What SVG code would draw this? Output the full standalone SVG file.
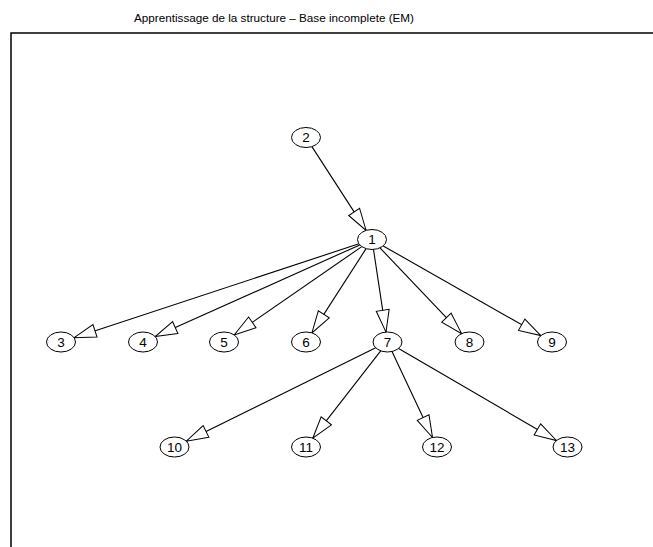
<svg xmlns="http://www.w3.org/2000/svg" width="653" height="547" viewBox="0 0 653 547">
  <style>
    .title { font-family: "Liberation Sans", Arial, sans-serif; font-size: 11.7px; fill: #000; text-anchor: middle; }
    .node ellipse { fill: #fff; stroke: #000; stroke-width: 1; }
    .node text { font-family: "Liberation Sans", Arial, sans-serif; font-size: 13.5px; fill: #000; text-anchor: middle; dominant-baseline: central; }
    .edge { stroke: #000; stroke-width: 1.1; fill: none; marker-end: url(#arrow); }
  </style>
  <defs>
    <marker id="arrow" markerUnits="userSpaceOnUse" markerWidth="24" markerHeight="15" refX="22" refY="6.5" orient="auto" overflow="visible">
      <path d="M0,0 L22,6.5 L0,13 Z" fill="#fff" stroke="#000" stroke-width="1"/>
    </marker>
  </defs>
  <rect width="653" height="547" fill="#fff"/>
  <text class="title" x="274" y="22">Apprentissage de la structure – Base incomplete (EM)</text>
  <!-- plot frame (right and bottom edges lie outside the canvas) -->
  <rect x="11" y="33" width="700" height="600" fill="none" stroke="#000" stroke-width="1.5"/>

  <g id="edges">
    <line class="edge" x1="311.9" y1="146.6" x2="366.1" y2="230.4"/>
    <line class="edge" x1="358.9" y1="243.8" x2="74.1" y2="337.7"/>
    <line class="edge" x1="359.8" y1="244.9" x2="155.2" y2="336.6"/>
    <line class="edge" x1="361.8" y1="246.6" x2="234.2" y2="334.9"/>
    <line class="edge" x1="366.1" y1="248.6" x2="311.9" y2="332.9"/>
    <line class="edge" x1="373.5" y1="249.5" x2="386.0" y2="332.1"/>
    <line class="edge" x1="380.0" y1="247.9" x2="461.6" y2="333.6"/>
    <line class="edge" x1="383.2" y1="245.9" x2="540.8" y2="335.6"/>
    <line class="edge" x1="375.7" y1="347.8" x2="186.3" y2="441.2"/>
    <line class="edge" x1="380.7" y1="350.8" x2="312.8" y2="438.2"/>
    <line class="edge" x1="392.0" y1="351.5" x2="432.5" y2="437.5"/>
    <line class="edge" x1="398.6" y1="348.5" x2="556.4" y2="440.5"/>
  </g>

  <g id="node-2" class="node"><ellipse cx="306" cy="137.5" rx="14.5" ry="10"/><text x="306" y="137.5">2</text></g>
  <g id="node-1" class="node"><ellipse cx="372" cy="239.5" rx="14.5" ry="10"/><text x="372" y="239.5">1</text></g>
  <g id="node-3" class="node"><ellipse cx="61" cy="342" rx="14.5" ry="10"/><text x="61" y="342">3</text></g>
  <g id="node-4" class="node"><ellipse cx="143" cy="342" rx="14.5" ry="10"/><text x="143" y="342">4</text></g>
  <g id="node-5" class="node"><ellipse cx="224" cy="342" rx="14.5" ry="10"/><text x="224" y="342">5</text></g>
  <g id="node-6" class="node"><ellipse cx="306" cy="342" rx="14.5" ry="10"/><text x="306" y="342">6</text></g>
  <g id="node-7" class="node"><ellipse cx="387.5" cy="342" rx="14.5" ry="10"/><text x="387.5" y="342">7</text></g>
  <g id="node-8" class="node"><ellipse cx="469.5" cy="342" rx="14.5" ry="10"/><text x="469.5" y="342">8</text></g>
  <g id="node-9" class="node"><ellipse cx="552" cy="342" rx="14.5" ry="10"/><text x="552" y="342">9</text></g>
  <g id="node-10" class="node"><ellipse cx="174.5" cy="447" rx="14.5" ry="10"/><text x="174.5" y="447">10</text></g>
  <g id="node-11" class="node"><ellipse cx="306" cy="447" rx="14.5" ry="10"/><text x="306" y="447">11</text></g>
  <g id="node-12" class="node"><ellipse cx="437" cy="447" rx="14.5" ry="10"/><text x="437" y="447">12</text></g>
  <g id="node-13" class="node"><ellipse cx="567.5" cy="447" rx="14.5" ry="10"/><text x="567.5" y="447">13</text></g>
</svg>
